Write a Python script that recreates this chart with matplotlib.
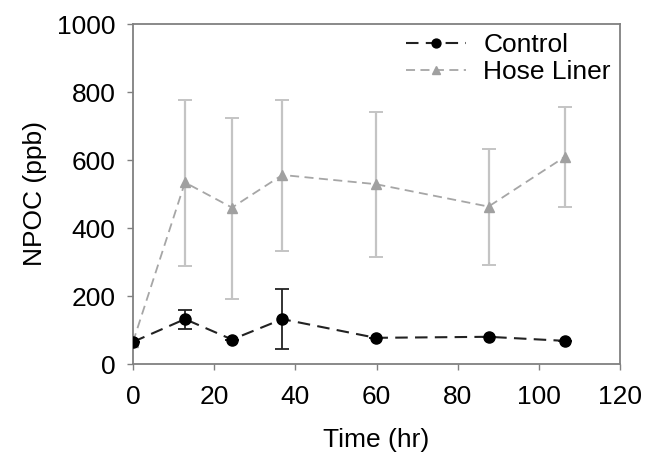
import matplotlib
matplotlib.use("Agg")
import matplotlib.pyplot as plt

plt.rcParams['font.family'] = ['Liberation Sans', 'DejaVu Sans']

time_control = [0, 12.8, 24.4, 36.8, 59.8, 87.6, 106.5]
control = [65, 132, 72, 132, 77, 80, 68]
control_err_up = [0, 28, 0, 90, 0, 0, 0]
control_err_dn = [0, 29, 0, 89, 0, 0, 0]

time_hose = [0, 12.8, 24.4, 36.8, 59.8, 87.6, 106.5]
hose = [65, 534, 460, 556, 529, 463, 610]
hose_err_up = [0, 242, 263, 220, 211, 168, 145]
hose_err_dn = [0, 246, 268, 223, 215, 172, 148]

x_ticks = [0, 20, 40, 60, 80, 100, 120]
y_ticks = [0, 200, 400, 600, 800, 1000]

fig = plt.figure(figsize=(6.56, 4.54), dpi=100)
ax = fig.add_axes([133/656, 1-364/454, (620-133)/656, (364-24)/454])

ax.errorbar(time_hose, hose, yerr=[hose_err_dn, hose_err_up], fmt='none',
            ecolor='#c4c4c4', elinewidth=1.6, capsize=5, capthick=1.4, zorder=2)
ax.plot(time_hose, hose, color='#a6a6a6', linestyle=(0, (5, 3)), linewidth=1.3,
        marker='^', markersize=7, markerfacecolor='#a0a0a0', markeredgecolor='#a0a0a0',
        label='Hose Liner', zorder=3)
ax.errorbar(time_control, control, yerr=[control_err_dn, control_err_up], fmt='none',
            ecolor='#222222', elinewidth=1.3, capsize=5, capthick=1.3, zorder=4)
ax.plot(time_control, control, color='#222222', linestyle=(0, (6, 3.5)), linewidth=1.5,
        marker='o', markersize=8, markerfacecolor='black', markeredgecolor='black',
        label='Control', zorder=5)

ax.set_xlim(0, 120)
ax.set_ylim(0, 1000)
ax.set_xticks(x_ticks)
ax.set_yticks(y_ticks)
ax.tick_params(axis='both', direction='out', length=4, width=1, color='#808080',
               labelsize=19)
ax.tick_params(axis='x', pad=11)
ax.tick_params(axis='y', pad=8.5)
for s in ax.spines.values():
    s.set_color('#808080')
    s.set_linewidth(1.3)

ax.set_xlabel('Time (hr)', fontsize=19, labelpad=14)
ax.set_ylabel('NPOC (ppb)', fontsize=19, labelpad=7)

handles, labels = ax.get_legend_handles_labels()
ax.legend(handles[::-1], labels[::-1], loc='upper right', frameon=False, fontsize=19,
          handlelength=2.27, handletextpad=0.65, borderaxespad=0.1, borderpad=0.25,
          labelspacing=0.12, markerscale=0.8)

fig.savefig('out.png', dpi=100)
